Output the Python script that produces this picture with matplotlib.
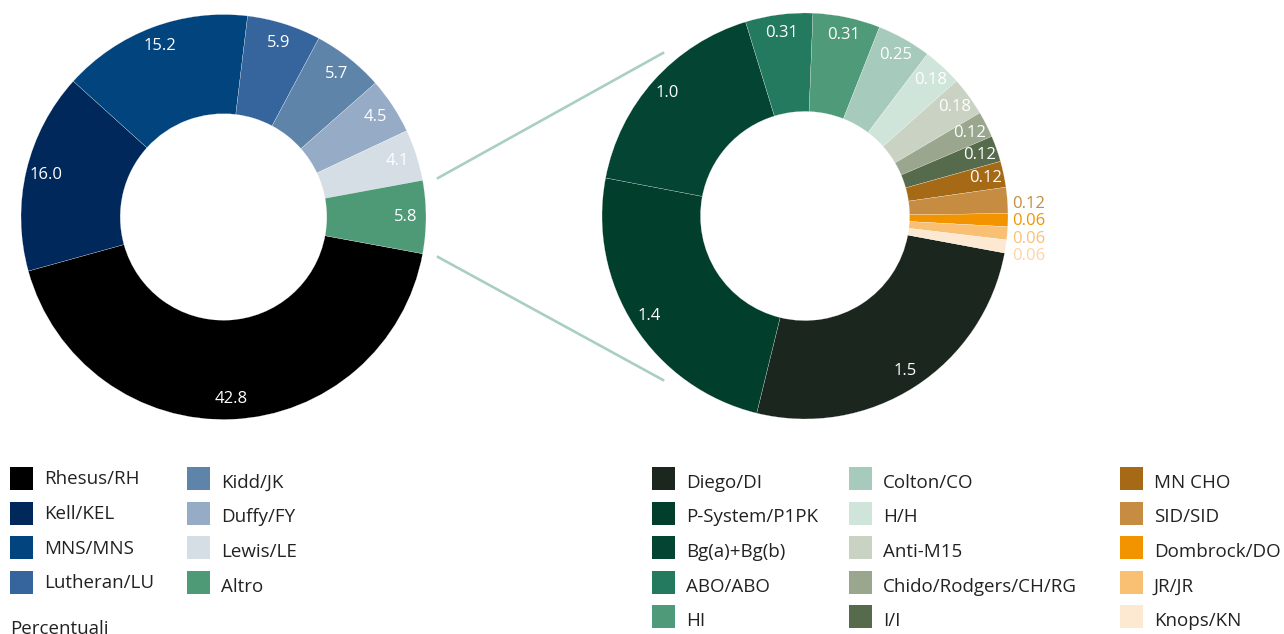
import numpy as np
import matplotlib
matplotlib.use("Agg")
import matplotlib.pyplot as plt
from matplotlib.patches import Rectangle
from matplotlib.lines import Line2D

plt.rcParams['font.family'] = ['Open Sans', 'DejaVu Sans']

# left donut: all antibody systems (percent)
left_labels = ['Rhesus/RH', 'Kell/KEL', 'MNS/MNS', 'Lutheran/LU',
               'Kidd/JK', 'Duffy/FY', 'Lewis/LE', 'Altro']
left_values = [42.8, 16.0, 15.2, 5.9, 5.7, 4.5, 4.1, 5.8]
left_text = ['42.8', '16.0', '15.2', '5.9', '5.7', '4.5', '4.1', '5.8']
left_colors = ['#000000', '#00285a', '#02457e', '#35659c',
               '#5f84aa', '#96abc6', '#d5dde5', '#4e9a77']

# right donut: breakdown of "Altro"
right_labels = ['Diego/DI', 'P-System/P1PK', 'Bg(a)+Bg(b)', 'ABO/ABO', 'HI',
                'Colton/CO', 'H/H', 'Anti-M15', 'Chido/Rodgers/CH/RG', 'I/I',
                'MN CHO', 'SID/SID', 'Dombrock/DO', 'JR/JR', 'Knops/KN']
right_values = [1.5, 1.4, 1.0, 0.31, 0.31, 0.25, 0.18, 0.18, 0.12, 0.12,
                0.12, 0.12, 0.06, 0.06, 0.06]
right_text = ['1.5', '1.4', '1.0', '0.31', '0.31', '0.25', '0.18', '0.18',
              '0.12', '0.12', '0.12', '0.12', '0.06', '0.06', '0.06']
right_colors = ['#1b271e', '#023e2c', '#034532', '#247a5e', '#4f9a78',
                '#a6cbbc', '#cfe5da', '#cad2c4', '#9aa78e', '#556b4b',
                '#a66a17', '#c68c41', '#f29400', '#f9c073', '#fde9d2']
n_inside = 11  # the last small slices get their labels outside
outside_colors = ['#c68c41', '#f29400', '#f9c073', '#fcd5a6']

W, H = 1284, 634
fig = plt.figure(figsize=(W / 100, H / 100), dpi=100)


def fx(x):
    return x / W


def fy(y):
    return 1 - y / H


def donut_ax(cx, cy, r):
    ax = fig.add_axes([fx(cx - r), fy(cy + r), 2 * r / W, 2 * r / H])
    ax.axis('off')
    return ax


def fix_limits(ax):
    ax.set_xlim(-1, 1)
    ax.set_ylim(-1, 1)
    ax.set_aspect('equal')


# left donut
axL = donut_ax(223.5, 217, 202.5)
start = -left_values[-1] / sum(left_values) * 360 / 2
wedges, _ = axL.pie(left_values, colors=left_colors, startangle=start,
                    counterclock=False, radius=1,
                    wedgeprops=dict(width=0.49, edgecolor='white', linewidth=0.15))
fix_limits(axL)
for w, t in zip(wedges, left_text):
    a = np.deg2rad((w.theta1 + w.theta2) / 2)
    axL.text(0.9 * np.cos(a), 0.9 * np.sin(a), t, color='white',
             fontsize=12, ha='center', va='center')

# right donut
axR = donut_ax(805, 216, 203)
wedges, _ = axR.pie(right_values, colors=right_colors, startangle=-10.5,
                    counterclock=False, radius=1,
                    wedgeprops=dict(width=0.485, edgecolor='white', linewidth=0.15))
fix_limits(axR)
y_out = None
for i, (w, t) in enumerate(zip(wedges, right_text)):
    a = np.deg2rad((w.theta1 + w.theta2) / 2)
    if i < n_inside:
        axR.text(0.91 * np.cos(a), 0.91 * np.sin(a), t, color='white',
                 fontsize=12, ha='center', va='center')
    else:
        # stack the small-slice labels outside the ring
        y_out = np.sin(a) - 0.02 if y_out is None else y_out - 0.084
        axR.text(1.02, y_out, t, color=outside_colors[i - n_inside],
                 fontsize=12, ha='left', va='center', clip_on=False)

# connector lines between the donuts
for (x0, y0), (x1, y1) in [((438, 178), (663, 53)), ((438, 257), (663, 380))]:
    fig.add_artist(Line2D([fx(x0), fx(x1)], [fy(y0), fy(y1)],
                          color='#a9cfc0', linewidth=1.9))


def legend_col(labels, colors, x_box, x_text, y0, text_dy=0):
    for k, (lab, c) in enumerate(zip(labels, colors)):
        yc = y0 + k * 34.5
        fig.add_artist(Rectangle((fx(x_box), fy(yc + 11.5)), 23 / W, 23 / H,
                                 facecolor=c, edgecolor='none'))
        fig.text(fx(x_text), fy(yc + text_dy), lab, fontsize=13.5,
                 color='#222222', ha='left', va='center')


legend_col(left_labels[:4], left_colors[:4], 10, 44, 478.5, 1)
legend_col(left_labels[4:], left_colors[4:], 187, 221, 478.5, 4.5)
legend_col(right_labels[:5], right_colors[:5], 652, 686, 478.5, 4.5)
legend_col(right_labels[5:10], right_colors[5:10], 849, 883, 478.5, 4.5)
legend_col(right_labels[10:], right_colors[10:], 1120, 1154, 478.5, 4.5)

fig.text(fx(10), fy(634), 'Percentuali', fontsize=13.5, color='#222222',
         ha='left', va='baseline')

fig.savefig('out.png', dpi=100)
